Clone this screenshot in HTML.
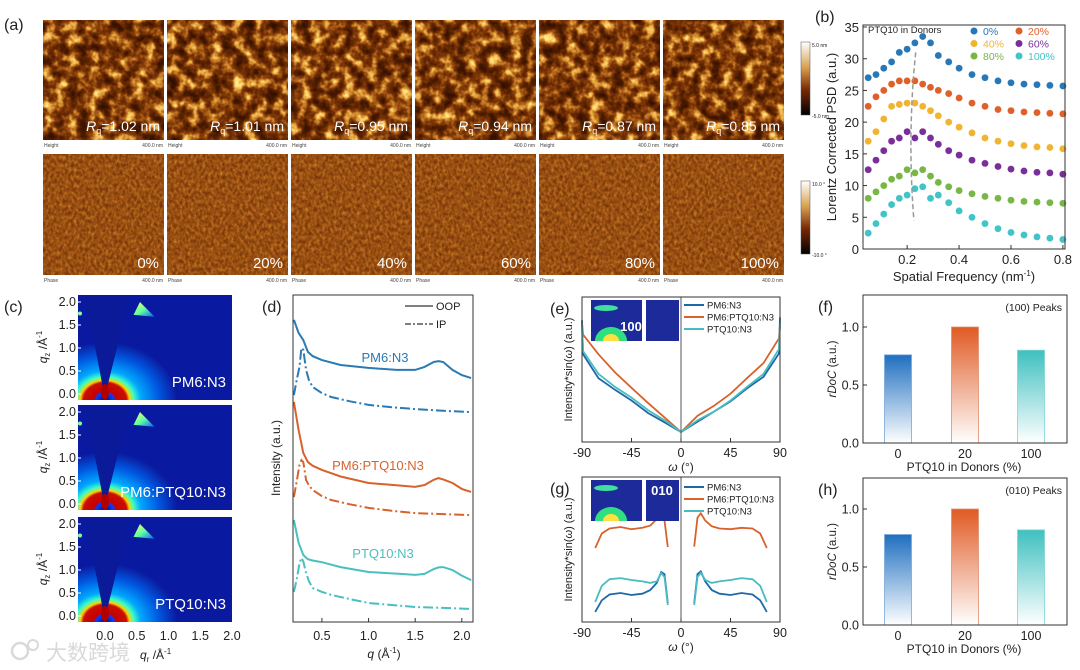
<!DOCTYPE html>
<html><head><meta charset="utf-8">
<style>
html,body{margin:0;padding:0;background:#fff;width:1080px;height:670px;overflow:hidden}
svg{display:block}
text{font-family:"Liberation Sans","Noto Sans CJK SC",sans-serif}
</style></head>
<body>
<svg id="fig" width="1080" height="670" viewBox="0 0 1080 670" xmlns="http://www.w3.org/2000/svg">
<defs>
  <filter id="afmH" x="0" y="0" width="1" height="1" filterUnits="objectBoundingBox" color-interpolation-filters="sRGB">
    <feTurbulence type="fractalNoise" baseFrequency="0.09" numOctaves="3" seed="3"/>
    <feColorMatrix type="matrix" values="1 0 0 0 0  1 0 0 0 0  1 0 0 0 0  0 0 0 0 1"/>
    <feComponentTransfer>
      <feFuncR type="table" tableValues="0.2 0.2 0.22 0.28 0.38 0.5 0.7 0.9 1 1 1"/>
      <feFuncG type="table" tableValues="0.05 0.05 0.07 0.1 0.15 0.22 0.4 0.65 0.85 0.95 1"/>
      <feFuncB type="table" tableValues="0 0 0 0 0.01 0.03 0.1 0.25 0.45 0.6 0.8"/>
    </feComponentTransfer>
  </filter>
  <filter id="afmP" x="0" y="0" width="1" height="1" filterUnits="objectBoundingBox" color-interpolation-filters="sRGB">
    <feTurbulence type="fractalNoise" baseFrequency="0.35 0.25" numOctaves="2" seed="7"/>
    <feColorMatrix type="matrix" values="1 0 0 0 0  1 0 0 0 0  1 0 0 0 0  0 0 0 0 1"/>
    <feComponentTransfer>
      <feFuncR type="table" tableValues="0.4 0.45 0.52 0.6 0.68 0.78 0.88"/>
      <feFuncG type="table" tableValues="0.17 0.2 0.25 0.31 0.38 0.47 0.56"/>
      <feFuncB type="table" tableValues="0.02 0.03 0.05 0.07 0.1 0.15 0.2"/>
    </feComponentTransfer>
  </filter>
  <linearGradient id="cbar" x1="0" y1="0" x2="0" y2="1">
    <stop offset="0" stop-color="#fff"/><stop offset="0.35" stop-color="#d9a050"/>
    <stop offset="0.65" stop-color="#7a2a05"/><stop offset="1" stop-color="#000"/>
  </linearGradient>
  <radialGradient id="giwaxs" cx="0.5" cy="0.5" r="0.5">
    <stop offset="0" stop-color="#000c80"/><stop offset="0.12" stop-color="#0040ff"/>
    <stop offset="0.16" stop-color="#c80000"/><stop offset="0.3" stop-color="#c81000"/>
    <stop offset="0.34" stop-color="#ffd000"/><stop offset="0.4" stop-color="#40ffc0"/>
    <stop offset="0.5" stop-color="#00a8ff"/><stop offset="0.75" stop-color="#0058e0"/>
    <stop offset="1" stop-color="#0a1aa0"/>
  </radialGradient>
  <linearGradient id="spot" x1="0" y1="0" x2="1" y2="1">
    <stop offset="0" stop-color="#ffff60"/><stop offset="0.5" stop-color="#60ffa0"/><stop offset="1" stop-color="#0060ff"/>
  </linearGradient>
  <linearGradient id="gBlue" x1="0" y1="0" x2="0" y2="1"><stop offset="0" stop-color="#1f6fc0"/><stop offset="1" stop-color="#fff"/></linearGradient>
  <linearGradient id="gOrange" x1="0" y1="0" x2="0" y2="1"><stop offset="0" stop-color="#e05a24"/><stop offset="1" stop-color="#fff"/></linearGradient>
  <linearGradient id="gCyan" x1="0" y1="0" x2="0" y2="1"><stop offset="0" stop-color="#3fc0c0"/><stop offset="1" stop-color="#fff"/></linearGradient>
</defs>
<g id="root"></g>
</svg>
<script>
// ---------- data ----------
const afmRq = ["1.02","1.01","0.95","0.94","0.87","0.85"];
const afmPct = ["0%","20%","40%","60%","80%","100%"];

const psdX = [0.05,0.08,0.11,0.14,0.17,0.2,0.23,0.26,0.29,0.32,0.36,0.40,0.45,0.5,0.55,0.6,0.65,0.7,0.75,0.8];
const psd0 = [27,27.5,28.5,29.5,31,31.5,32.5,33.5,32.5,30.5,29.5,28.5,27.5,27,26.5,26.2,26,25.9,25.8,25.7];
const psd20 = [22.5,24,25,26,26.5,26.5,26.5,26,25.5,25,24.5,23.8,23,22.5,22,21.8,21.6,21.5,21.4,21.3];
const psd40 = [17,18.5,20.5,22.5,22.8,23,23,22.5,21.8,21,20,19.2,18.3,17.5,17,16.6,16.3,16.1,16,15.8];
const psd60 = [12.5,14,15.5,17,17.5,18.5,17.5,18.5,17.5,16.5,15.5,14.8,14,13.5,13,12.6,12.3,12.1,12,11.8];
const psd80 = [8,9,10,11,11.5,12.5,12,12.5,11.5,10.5,9.8,9.2,8.7,8.3,8,7.7,7.5,7.4,7.3,7.2];
const psd100 = [2.5,4,5.5,7,8,8.5,9.5,9.8,8,8.5,7.3,6,5,4,3.2,2.6,2.2,1.9,1.7,1.5];
const psdLabels = ["0%","20%","40%","60%","80%","100%"];
const psdYTicks = [0,5,10,15,20,25,30,35];
const psdXTicks = [0.2,0.4,0.6,0.8];

const dQ = [0.2,0.25,0.3,0.35,0.4,0.5,0.7,1.0,1.3,1.5,1.6,1.7,1.75,1.8,1.9,2.0,2.1];
const oopPM6 = [92.4,88.4,86.2,82.6,81.3,80.1,78.6,77.7,77.1,77.1,78.0,79.5,79.8,79.5,77.1,75.5,74.6];
const oopBlend = [67.3,58.7,51.7,48.9,47.8,46.5,44.5,42.5,41.8,41.3,41.9,43.5,44,43.6,42.5,40.7,39.8];
const oopPTQ = [31.2,24.2,20.5,19.2,18.8,18.3,16.8,15.3,14.8,14.4,14.7,16.2,16.7,16.8,15.9,14.2,12.8];
const ipQ = [0.2,0.23,0.26,0.28,0.3,0.33,0.36,0.4,0.5,0.6,0.8,1.0,1.25,1.5,1.8,2.1];
const ipPM6 = [69.4,74,78,83.8,83.2,77.1,74,71.9,70,68.8,67.5,66.4,65.7,65.1,64.6,64.2];
const ipBlend = [38.2,43,48,49.5,48.9,43.4,41.8,40.4,38.5,37.3,36,34.9,34,33.3,33,32.7];
const ipPTQ = [9.2,13,18,19.6,18.5,15,12.5,10.4,9.2,8.3,7,5.8,5.2,4.6,4.3,4];
const dXTicks = [0.5,1.0,1.5,2.0];

const eW = [-90,-89,-75,-60,-45,-30,-15,0,15,30,45,60,75,89,90];
const ePM6 = [84,60.5,44,36,28.6,20,13.6,6.8,14,21,28,37,45,61,86];
const eBlend = [82,74,60.5,48,37.4,27,17,6.8,18,25,33.3,44,54.4,71.4,80];
const ePTQ = [80,62.6,47,38,30.6,22,15,6.8,15,21,28.6,38,47,64,82];
const gWL = [-78,-72,-65,-55,-45,-35,-28,-22,-18,-15,-12];
const gWR = [12,15,18,22,28,35,45,55,65,72,78];
const gBlendL = [51,61,64.5,65.5,64,65,66.5,71,75,70,51.7];
const gBlendR = [52,72,75,70,66,64.5,64,65,64.5,61,51];
const gPM6L = [7,15,19,20,18.6,19.5,22,27,34.5,33,13];
const gPM6R = [13,33,35,28,22,19.5,18.6,20,19,15,7];
const gPTQL = [13.8,25,29.5,30.3,29,28,27,28,33.8,31,11.7];
const gPTQR = [11.7,31,34,29,27,28,29,30.3,29.5,25,13.8];
const omegaTicks = [-90,-45,0,45,90];

const barCats = ["0","20","100"];
const peaks100 = [0.76,1.0,0.80];
const peaks010 = [0.78,1.0,0.82];
const barTicks = [0.0,0.5,1.0];

// ---------- helpers ----------
const NS="http://www.w3.org/2000/svg";
const root=document.getElementById('root');
function el(tag,attrs,parent,txt){const e=document.createElementNS(NS,tag);for(const k in attrs)e.setAttribute(k,attrs[k]);if(txt!==undefined)e.textContent=txt;(parent||root).appendChild(e);return e;}
function lin(d0,d1,r0,r1){return v=>r0+(v-d0)*(r1-r0)/(d1-d0);}
function label(x,y,t,size,opt){opt=opt||{};const e=el('text',{x:x,y:y,'font-size':size,fill:opt.fill||'#222','text-anchor':opt.anchor||'start'},opt.parent,t);if(opt.rot)e.setAttribute('transform','rotate(-90 '+x+' '+y+')');if(opt.italic)e.setAttribute('font-style','italic');if(opt.bold)e.setAttribute('font-weight','bold');return e;}
function poly(xs,ys,sx,sy,attrs,parent){const d=xs.map((v,i)=>(i?'L':'M')+sx(v).toFixed(1)+','+sy(ys[i]).toFixed(1)).join('');const p=el('path',Object.assign({d:d,fill:'none'},attrs),parent);return p;}

// ---------- panel a ----------
const gA=el('g',{});


label(4,30,'(a)',16,{parent:gA});
for(let i=0;i<6;i++){
  const x=43+i*124;
  const h=el('rect',{x:x,y:20,width:121,height:120,filter:'url(#afmH)'},gA);
  
  
  h.setAttribute('fill','#000');
  const t=el('text',{x:x+117,y:131,'font-size':14,fill:'#fff','text-anchor':'end'},gA);
  
  
  el('tspan',{'font-style':'italic'},t,'R');
  el('tspan',{'font-size':9,dy:3},t,'q');
  el('tspan',{dy:-3},t,'='+afmRq[i]+' nm');
  label(x+1,147,'Height',5,{parent:gA,fill:'#444'});
  label(x+120,147,'400.0 nm',5,{parent:gA,fill:'#444',anchor:'end'});
  const p=el('rect',{x:x,y:154,width:121,height:121,filter:'url(#afmP)'},gA);
  
  
  label(x+116,268,afmPct[i],15,{parent:gA,fill:'#fff',anchor:'end'});
  label(x+1,282,'Phase',5,{parent:gA,fill:'#444'});
  label(x+120,282,'400.0 nm',5,{parent:gA,fill:'#444',anchor:'end'});
}
const cb1=el('rect',{x:801,y:42,width:9,height:73,fill:'url(#cbar)',stroke:'#555','stroke-width':0.5},gA);

label(812,47,'5.0 nm',5,{parent:gA});label(812,118,'-5.0 nm',5,{parent:gA});
const cb2=el('rect',{x:801,y:181,width:9,height:73,fill:'url(#cbar)',stroke:'#555','stroke-width':0.5},gA);

label(812,186,'10.0 °',5,{parent:gA});label(812,257,'-10.0 °',5,{parent:gA});

// ---------- panel b ----------
const gB=el('g',{});


const bx=lin(0.03,0.808,863,1065), by=lin(0,35,249,27);
label(815,22,'(b)',16,{parent:gB});
const psdSeries=[psd0,psd20,psd40,psd60,psd80,psd100];
const psdColors=['#2878b8','#e0602a','#f0b430','#7a2e9a','#78b646','#40c4c8'];
psdSeries.forEach((s,k)=>{
  const g=el('g',{},gB);
  
  
  s.forEach((v,i)=>{
    const c=el('circle',{cx:bx(psdX[i]).toFixed(1),cy:by(v).toFixed(1),r:3.6,fill:psdColors[k],stroke:'#fff','stroke-width':0.4},g);
    
    
  });
});
el('path',{d:'M'+bx(0.233)+','+by(31)+' Q'+bx(0.2)+','+by(18)+' '+bx(0.226)+','+by(4.5),fill:'none',stroke:'#999','stroke-width':1.5,'stroke-dasharray':'5,3'},gB);
el('rect',{x:863,y:25,width:202,height:224,fill:'none',stroke:'#333','stroke-width':1},gB);
psdYTicks.forEach(t=>{el('line',{x1:863,x2:867,y1:by(t),y2:by(t),stroke:'#333'},gB);label(859,by(t)+5,String(t),13,{parent:gB,anchor:'end'});});
psdXTicks.forEach(t=>{el('line',{x1:bx(t),x2:bx(t),y1:249,y2:245,stroke:'#333'},gB);label(bx(t),264,t.toFixed(1),13,{parent:gB,anchor:'middle'});});
const bt=label(964,281,'Spatial Frequency (nm',13,{parent:gB,anchor:'middle'});
el('tspan',{'font-size':8,dy:-5},bt,'-1');el('tspan',{dy:5},bt,')');
label(836,137,'Lorentz Corrected PSD (a.u.)',13,{parent:gB,anchor:'middle',rot:true});
label(868,33,'PTQ10 in Donors',9.5,{parent:gB});
psdLabels.forEach((l,k)=>{
  const cx=k%2?1019:974, cy=31+Math.floor(k/2)*12.5;
  const c=el('circle',{cx:cx,cy:cy,r:3.5,fill:psdColors[k]},gB);
  
  
  label(cx+9,cy+4,l,10.5,{parent:gB,fill:psdColors[k]});
});

// ---------- panel c ----------
const gC=el('g',{});


label(4,312,'(c)',16,{parent:gC});
const cNames=['PM6:N3','PM6:PTQ10:N3','PTQ10:N3'];
const cTops=[295,405,517];
const cxs=lin(0,2,105,232);
cNames.forEach((n,i)=>{
  const top=cTops[i],h=105,bot=top+h;
  const cy=lin(0,2,bot-6,top+7);
  const cp=el('clipPath',{id:'cc'+i},gC);el('rect',{x:78,y:top,width:154,height:h},cp);
  const g=el('g',{'clip-path':'url(#cc'+i+')'},gC);
  
  
  el('rect',{x:78,y:top,width:154,height:h,fill:'#0a1aa0'},g);
  el('ellipse',{cx:105,cy:bot,rx:72,ry:58,fill:'url(#giwaxs)'},g);
  el('polygon',{points:`103,${bot-12} 107,${bot-12} 130,${top} 85,${top}`,fill:'#0a1a98'},g);
  el('ellipse',{cx:105,cy:bot-8,rx:4,ry:8,fill:'#b00000'},g);
  el('polygon',{points:`${cxs(0.45)},${cy(1.72)} ${cxs(0.55)},${cy(2.0)} ${cxs(0.78)},${cy(1.68)}`,fill:'url(#spot)'},g);
  el('circle',{cx:80,cy:cy(1.75),r:2,fill:'#80ffa0'},g);
  label(226,bot-13,n,15,{parent:gC,fill:'#fff',anchor:'end'});
  [0,0.5,1,1.5,2].forEach(t=>{label(76,cy(t)+4,t.toFixed(1),12.5,{parent:gC,anchor:'end'});el('line',{x1:78,x2:81,y1:cy(t),y2:cy(t),stroke:'#fff'},gC);});
  const qt=el('text',{x:47,y:top+52,'font-size':12,'text-anchor':'middle',transform:'rotate(-90 47 '+(top+52)+')',fill:'#222'},gC);
  el('tspan',{'font-style':'italic'},qt,'q');el('tspan',{'font-size':8,dy:3},qt,'z');el('tspan',{dy:-3},qt,' /Å');el('tspan',{'font-size':8,dy:-5},qt,'-1');
});
[0,0.5,1,1.5,2].forEach(t=>label(cxs(t),640,t.toFixed(1),12.5,{parent:gC,anchor:'middle'}));
const qr=el('text',{x:140,y:659,'font-size':12,fill:'#222'},gC);
el('tspan',{'font-style':'italic'},qr,'q');el('tspan',{'font-size':8,dy:3},qr,'r');el('tspan',{dy:-3},qr,' /Å');el('tspan',{'font-size':8,dy:-5},qr,'-1');
const wm=el('g',{opacity:0.55},gC);

el('circle',{cx:20,cy:651,r:8,fill:'none',stroke:'#bbb','stroke-width':2.5},wm);
el('circle',{cx:33,cy:645,r:5,fill:'none',stroke:'#bbb','stroke-width':2},wm);
label(46,660,'大数跨境',21,{parent:wm,fill:'#bbb'});

// ---------- panel d ----------
const gD=el('g',{});


label(262,312,'(d)',16,{parent:gD});
const dx=lin(0.19,2.12,293,473), dy=lin(0,100,622,295);
const dCol=['#2a7ab4','#d8622c','#4abfc0'];
[[oopPM6,ipPM6],[oopBlend,ipBlend],[oopPTQ,ipPTQ]].forEach((s,k)=>{
  const a=poly(dQ,s[0],dx,dy,{stroke:dCol[k],'stroke-width':2},gD);
  
  const b=poly(ipQ,s[1],dx,dy,{stroke:dCol[k],'stroke-width':2,'stroke-dasharray':'10,3,2,3'},gD);
  
});
label(385,362,'PM6:N3',13,{parent:gD,fill:'#2a7ab4',anchor:'middle'});
label(378,470,'PM6:PTQ10:N3',13,{parent:gD,fill:'#d8622c',anchor:'middle'});
label(383,558,'PTQ10:N3',13,{parent:gD,fill:'#4abfc0',anchor:'middle'});
el('rect',{x:293,y:295,width:180,height:327,fill:'none',stroke:'#333'},gD);
dXTicks.forEach(t=>{el('line',{x1:dx(t),x2:dx(t),y1:622,y2:618,stroke:'#333'},gD);label(dx(t),640,t.toFixed(1),12.5,{parent:gD,anchor:'middle'});});
const dq=el('text',{x:384,y:658,'font-size':12,'text-anchor':'middle',fill:'#222'},gD);
el('tspan',{'font-style':'italic'},dq,'q');el('tspan',{},dq,' (Å');el('tspan',{'font-size':8,dy:-5},dq,'-1');el('tspan',{dy:5},dq,')');
label(280,458,'Intensity (a.u.)',12,{parent:gD,anchor:'middle',rot:true});
el('line',{x1:405,x2:433,y1:306,y2:306,stroke:'#333','stroke-width':1.2},gD);label(436,310,'OOP',11,{parent:gD});
el('line',{x1:405,x2:433,y1:324,y2:324,stroke:'#333','stroke-width':1.2,'stroke-dasharray':'6,2,2,2'},gD);label(436,328,'IP',11,{parent:gD});

// ---------- panel e & g ----------
function omegaPanel(name,top,bot,lbl,series,insetLabel,legY){
  const g=el('g',{});
  
  
  const x=lin(-90,90,582,780), y=lin(0,100,bot,top);
  label(550,top+17,lbl,16,{parent:g});
  series.forEach(s=>{s.forEach(part=>{const p=poly(part[0],part[1],x,y,{stroke:s.color,'stroke-width':1.8},g);});});
  el('line',{x1:x(0),x2:x(0),y1:top,y2:bot,stroke:'#555','stroke-width':1},g);
  el('rect',{x:582,y:top,width:198,height:bot-top,fill:'none',stroke:'#333'},g);
  omegaTicks.forEach(t=>{el('line',{x1:x(t),x2:x(t),y1:bot,y2:bot-4,stroke:'#333'},g);label(x(t),bot+15,String(t),12.5,{parent:g,anchor:'middle'});});
  const ot=el('text',{x:681,y:bot+29,'font-size':12,'text-anchor':'middle',fill:'#222'},g);
  el('tspan',{'font-style':'italic'},ot,'ω');el('tspan',{},ot,' (°)');
  const yt=el('text',{x:572,y:(top+bot)/2,'font-size':11,'text-anchor':'middle',fill:'#222',transform:'rotate(-90 572 '+((top+bot)/2)+')'},g);
  el('tspan',{},yt,'Intensity*sin(');el('tspan',{'font-style':'italic'},yt,'ω');el('tspan',{},yt,') (a.u.)');
  const ins=el('g',{},g);
  
  
  const it=top+3, ib=top+44;
  const icp=el('clipPath',{id:'icp'+insetLabel},g);el('rect',{x:591,y:it,width:51,height:ib-it},icp);
  const ig=el('g',{'clip-path':'url(#icp'+insetLabel+')'},ins);
  el('rect',{x:591,y:it,width:51,height:ib-it,fill:'#1c2a9a'},ig);
  el('ellipse',{cx:611,cy:ib,rx:16,ry:14,fill:'#30e080'},ig);
  el('ellipse',{cx:611,cy:ib,rx:8,ry:7,fill:'#ffe040'},ig);
  el('ellipse',{cx:606,cy:it+8,rx:12,ry:3,fill:'#40e0a0'},ig);
  el('rect',{x:646,y:it,width:33,height:ib-it,fill:'#1c2a9a'},ins);
  label(insetLabel==='100'?631:662,insetLabel==='100'?ib-10:it+15,insetLabel,13,{parent:ins,fill:'#fff',anchor:'middle',bold:true});
  const names=['PM6:N3','PM6:PTQ10:N3','PTQ10:N3'];
  series.forEach((s,k)=>{const yy=legY+k*12;el('line',{x1:684,x2:704,y1:yy,y2:yy,stroke:s.color,'stroke-width':2},g);label(707,yy+3.5,names[k],9.5,{parent:g});});
}
const sE1=[[eW,ePM6]];sE1.color='#1f68a8';
const sE2=[[eW,eBlend]];sE2.color='#d8622c';
const sE3=[[eW,ePTQ]];sE3.color='#48bcc0';
omegaPanel('panel-e-pole-figure-100',297,442,'(e)',[sE1,sE2,sE3],'100',305);
const sG1=[[gWL,gPM6L],[gWR,gPM6R]];sG1.color='#1f68a8';
const sG2=[[gWL,gBlendL],[gWR,gBlendR]];sG2.color='#d8622c';
const sG3=[[gWL,gPTQL],[gWR,gPTQR]];sG3.color='#48bcc0';
omegaPanel('panel-g-pole-figure-010',477,622,'(g)',[sG1,sG2,sG3],'010',487);

// ---------- panel f & h ----------
function barPanel(name,top,bot,lbl,vals,peakLbl){
  const g=el('g',{});
  
  
  const y=lin(0,1,bot,bot-116);
  const xc=[898,965,1031];
  const fills=['url(#gBlue)','url(#gOrange)','url(#gCyan)'];
  const strokes=['#7aa8d8','#e09070','#80d4d4'];
  label(818,top+17,lbl,16,{parent:g});
  vals.forEach((v,i)=>{
    const r=el('rect',{x:xc[i]-13.5,y:y(v),width:27,height:bot-y(v),fill:fills[i],stroke:strokes[i],'stroke-width':0.8},g);
    
    
    label(xc[i],bot+15,barCats[i],12.5,{parent:g,anchor:'middle'});
  });
  el('rect',{x:863,y:top,width:204,height:bot-top,fill:'none',stroke:'#333'},g);
  barTicks.forEach(t=>{el('line',{x1:863,x2:867,y1:y(t),y2:y(t),stroke:'#333'},g);label(859,y(t)+4.5,t.toFixed(1),12.5,{parent:g,anchor:'end'});});
  label(1062,top+16,peakLbl,10.5,{parent:g,anchor:'end'});
  label(964,bot+28,'PTQ10 in Donors (%)',12,{parent:g,anchor:'middle'});
  const yt=el('text',{x:836,y:(top+bot)/2,'font-size':11.5,'text-anchor':'middle',fill:'#222',transform:'rotate(-90 836 '+((top+bot)/2)+')'},g);
  el('tspan',{'font-style':'italic'},yt,'rDoC');el('tspan',{},yt,' (a.u.)');
}
barPanel('panel-f-rdoc-100',295,443,'(f)',peaks100,'(100) Peaks');
barPanel('panel-h-rdoc-010',478,625,'(h)',peaks010,'(010) Peaks');
</script>
</body></html>
